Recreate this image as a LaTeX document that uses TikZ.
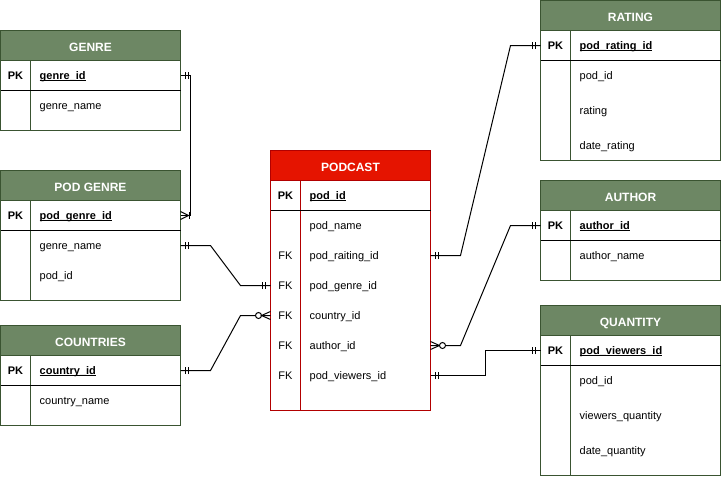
\documentclass[tikz,border=0pt]{standalone}
\usepackage{fontspec}
\setmainfont{Liberation Sans}
\usepackage{tikz}
\usetikzlibrary{positioning,decorations.markings}
\definecolor{headgreen}{HTML}{6D8764}
\definecolor{linegreen}{HTML}{3A5431}
\definecolor{headred}{HTML}{E51400}
\definecolor{linered}{HTML}{B20000}
\newcommand{\fieldul}[1]{\setbox0\hbox{#1}\rlap{\rule[-1.8pt]{\wd0}{0.9pt}}\box0}
\tikzset{
    tablehead/.style = {
        rectangle,
        draw=linegreen,
        fill=headgreen,
        text=white,
        font=\fontsize{12}{14}\selectfont\bfseries,
        minimum width=180pt,
        minimum height=30pt,
        text height=11pt,
        text depth=0pt,
        inner sep=0pt,
        outer sep=0pt,
        line width=1pt
    },
    podhead/.style = {
        tablehead,
        draw=linered,
        fill=headred,
        minimum width=160pt
    },
    tablerow/.style = {
        rectangle,
        draw=linegreen,
        minimum width=180pt,
        minimum height=30pt,
        inner sep=0pt,
        outer sep=0pt,
        line width=1pt
    },
    podrow/.style = {
        tablerow,
        draw=linered,
        minimum width=160pt
    },
    keytext/.style = {
        font=\fontsize{11}{13}\selectfont,
        inner sep=0pt,
        text height=10pt,
        text depth=2pt
    },
    keylabel/.style = {
        keytext,
        font=\fontsize{11}{13}\selectfont\bfseries
    },
    fieldtext/.style = {
        keytext,
        anchor=west
    },
    keyfield/.style = {
        keylabel,
        anchor=west
    },
    link/.style = {
        draw=black,
        line width=1pt
    },
    one start/.style = {postaction={decorate, decoration={markings,
        mark=at position 5pt with {\draw[line width=1pt] (0,-3.5pt) -- (0,3.5pt);},
        mark=at position 8pt with {\draw[line width=1pt] (0,-3.5pt) -- (0,3.5pt);}}}},
    one end/.style = {postaction={decorate, decoration={markings,
        mark=at position -8pt with {\draw[line width=1pt] (0,-3.5pt) -- (0,3.5pt);},
        mark=at position -5pt with {\draw[line width=1pt] (0,-3.5pt) -- (0,3.5pt);}}}},
    onemany end/.style = {postaction={decorate, decoration={markings,
        mark=at position -8.5pt with {\draw[line width=1pt] (0,-3.5pt) -- (0,3.5pt);},
        mark=at position -8pt with {\draw[line width=1pt] (8pt,4pt) -- (0,0) -- (8pt,-4pt);}}}},
    zeromany start/.style = {postaction={decorate, decoration={markings,
        mark=at position 9pt with {\draw[line width=1pt] (-9pt,4pt) -- (0,0) -- (-9pt,-4pt);},
        mark=at position 12pt with {\draw[line width=1pt, fill=white] (0,0) circle (3pt);}}}},
    zeromany end/.style = {postaction={decorate, decoration={markings,
        mark=at position -12pt with {\draw[line width=1pt, fill=white] (0,0) circle (3pt);},
        mark=at position -9pt with {\draw[line width=1pt] (9pt,4pt) -- (0,0) -- (9pt,-4pt);}}}}
}

\begin{document}
\begin{tikzpicture}[x=1pt, y=-1pt]
    \useasboundingbox (0,0) rectangle (721,491);

    % GENRE
    \node [tablehead] (genre) at (90.5,45.5) {GENRE};
    \node [tablerow, below=0pt of genre] (genre-key) {};
    \node [tablerow, minimum height=40pt, below=0pt of genre-key] (genre-body) {};
    \draw [linegreen, line width=1pt] ([xshift=30pt]genre-key.north west) -- ([xshift=30pt]genre-body.south west);
    \draw [line width=1pt] (genre-key.south west) -- (genre-key.south east);
    \node [keylabel] at ([xshift=15pt]genre-key.west) {PK};
    \node [keyfield] (genre-id) at ([xshift=39pt]genre-key.west) {\fieldul{genre\_id}};
    \node [fieldtext] (genre-1) at ([xshift=39pt, yshift=-15pt]genre-body.north west) {genre\_name};

    % POD GENRE
    \node [tablehead] (podgenre) at (90.5,185.5) {POD GENRE};
    \node [tablerow, below=0pt of podgenre] (podgenre-key) {};
    \node [tablerow, minimum height=70pt, below=0pt of podgenre-key] (podgenre-body) {};
    \draw [linegreen, line width=1pt] ([xshift=30pt]podgenre-key.north west) -- ([xshift=30pt]podgenre-body.south west);
    \draw [line width=1pt] (podgenre-key.south west) -- (podgenre-key.south east);
    \node [keylabel] at ([xshift=15pt]podgenre-key.west) {PK};
    \node [keyfield] (podgenre-id) at ([xshift=39pt]podgenre-key.west) {\fieldul{pod\_genre\_id}};
    \foreach \f [count=\i] in {genre\_name, pod\_id}
        \node [fieldtext] (podgenre-\i) at ([xshift=39pt, yshift={-15pt-(\i-1)*30pt}]podgenre-body.north west) {\f};

    % COUNTRIES
    \node [tablehead] (countries) at (90.5,340.5) {COUNTRIES};
    \node [tablerow, below=0pt of countries] (countries-key) {};
    \node [tablerow, minimum height=40pt, below=0pt of countries-key] (countries-body) {};
    \draw [linegreen, line width=1pt] ([xshift=30pt]countries-key.north west) -- ([xshift=30pt]countries-body.south west);
    \draw [line width=1pt] (countries-key.south west) -- (countries-key.south east);
    \node [keylabel] at ([xshift=15pt]countries-key.west) {PK};
    \node [keyfield] (countries-id) at ([xshift=39pt]countries-key.west) {\fieldul{country\_id}};
    \node [fieldtext] (countries-1) at ([xshift=39pt, yshift=-15pt]countries-body.north west) {country\_name};

    % PODCAST
    \node [podhead] (podcast) at (350.5,165.5) {PODCAST};
    \node [podrow, below=0pt of podcast] (podcast-key) {};
    \node [podrow, minimum height=200pt, below=0pt of podcast-key] (podcast-body) {};
    \draw [linered, line width=1pt] ([xshift=30pt]podcast-key.north west) -- ([xshift=30pt]podcast-body.south west);
    \draw [line width=1pt] (podcast-key.south west) -- (podcast-key.south east);
    \node [keylabel] at ([xshift=15pt]podcast-key.west) {PK};
    \node [keyfield] (podcast-id) at ([xshift=39pt]podcast-key.west) {\fieldul{pod\_id}};
    \foreach \k/\f [count=\i] in {/pod\_name, FK/pod\_raiting\_id, FK/pod\_genre\_id, FK/country\_id, FK/author\_id, FK/pod\_viewers\_id} {
        \node [keytext] at ([xshift=15pt, yshift={-15pt-(\i-1)*30pt}]podcast-body.north west) {\k};
        \node [fieldtext] (podcast-\i) at ([xshift=39pt, yshift={-15pt-(\i-1)*30pt}]podcast-body.north west) {\f};
    }

    % RATING
    \node [tablehead] (rating) at (630.5,15.5) {RATING};
    \node [tablerow, below=0pt of rating] (rating-key) {};
    \node [tablerow, minimum height=100pt, below=0pt of rating-key] (rating-body) {};
    \draw [linegreen, line width=1pt] ([xshift=30pt]rating-key.north west) -- ([xshift=30pt]rating-body.south west);
    \draw [line width=1pt] (rating-key.south west) -- (rating-key.south east);
    \node [keylabel] at ([xshift=15pt]rating-key.west) {PK};
    \node [keyfield] (rating-id) at ([xshift=39pt]rating-key.west) {\fieldul{pod\_rating\_id}};
    \foreach \f [count=\i] in {pod\_id, rating, date\_rating}
        \node [fieldtext] (rating-\i) at ([xshift=39pt, yshift={-15pt-(\i-1)*35pt}]rating-body.north west) {\f};

    % AUTHOR
    \node [tablehead] (author) at (630.5,195.5) {AUTHOR};
    \node [tablerow, below=0pt of author] (author-key) {};
    \node [tablerow, minimum height=40pt, below=0pt of author-key] (author-body) {};
    \draw [linegreen, line width=1pt] ([xshift=30pt]author-key.north west) -- ([xshift=30pt]author-body.south west);
    \draw [line width=1pt] (author-key.south west) -- (author-key.south east);
    \node [keylabel] at ([xshift=15pt]author-key.west) {PK};
    \node [keyfield] (author-id) at ([xshift=39pt]author-key.west) {\fieldul{author\_id}};
    \node [fieldtext] (author-1) at ([xshift=39pt, yshift=-15pt]author-body.north west) {author\_name};

    % QUANTITY
    \node [tablehead] (quantity) at (630.5,320.5) {QUANTITY};
    \node [tablerow, below=0pt of quantity] (quantity-key) {};
    \node [tablerow, minimum height=110pt, below=0pt of quantity-key] (quantity-body) {};
    \draw [linegreen, line width=1pt] ([xshift=30pt]quantity-key.north west) -- ([xshift=30pt]quantity-body.south west);
    \draw [line width=1pt] (quantity-key.south west) -- (quantity-key.south east);
    \node [keylabel] at ([xshift=15pt]quantity-key.west) {PK};
    \node [keyfield] (quantity-id) at ([xshift=39pt]quantity-key.west) {\fieldul{pod\_viewers\_id}};
    \foreach \f [count=\i] in {pod\_id, viewers\_quantity, date\_quantity}
        \node [fieldtext] (quantity-\i) at ([xshift=39pt, yshift={-15pt-(\i-1)*35pt}]quantity-body.north west) {\f};

    % relations
    \draw [link, one start, onemany end] (genre-key.east) -- ++(10,0) |- (podgenre-key.east);
    \draw [link, one start, one end] (podgenre-body.east |- podgenre-1) -- ++(30,0)
        -- ([xshift=-30pt]podcast-body.west |- podcast-3) -- (podcast-body.west |- podcast-3);
    \draw [link, one start, zeromany end] (countries-key.east) -- ++(30,0)
        -- ([xshift=-30pt]podcast-body.west |- podcast-4) -- (podcast-body.west |- podcast-4);
    \draw [link, one start, one end] (podcast-body.east |- podcast-2) -- ++(30,0)
        -- ([xshift=-30pt]rating-key.west) -- (rating-key.west);
    \draw [link, zeromany start, one end] (podcast-body.east |- podcast-5) -- ++(30,0)
        -- ([xshift=-30pt]author-key.west) -- (author-key.west);
    \draw [link, one start, one end] (podcast-body.east |- podcast-6) -- ++(55,0) |- (quantity-key.west);
\end{tikzpicture}
\end{document}
